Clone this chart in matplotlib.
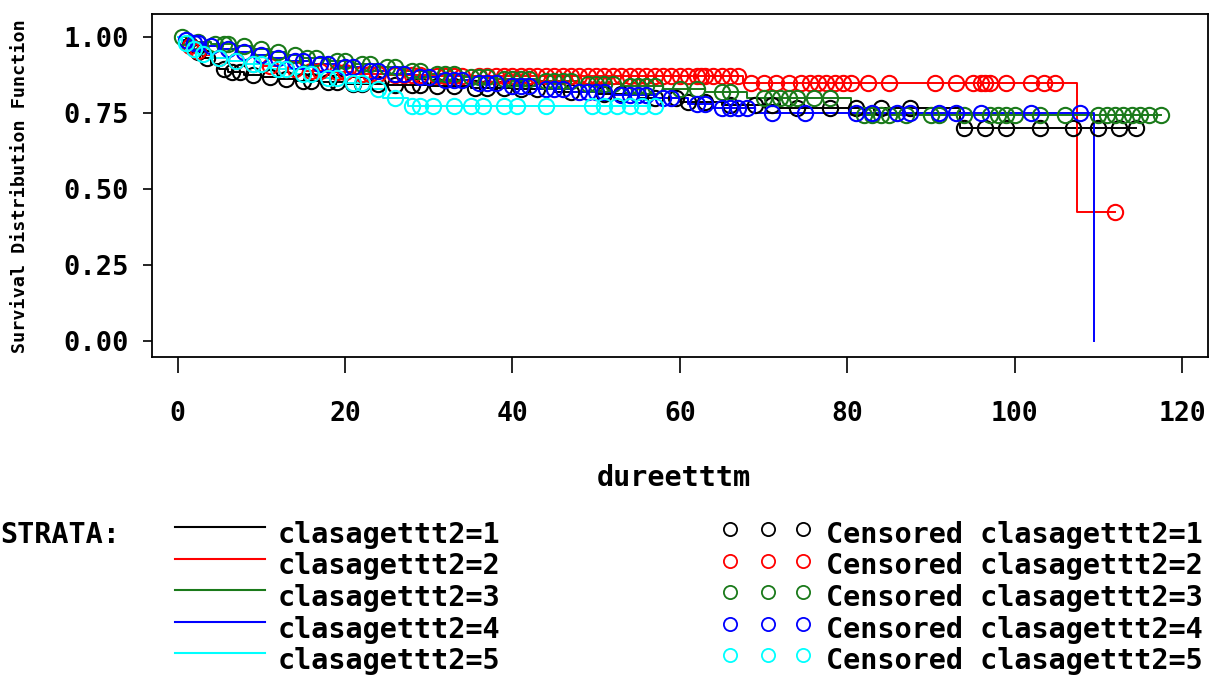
import numpy as np
import matplotlib
matplotlib.use("Agg")
import matplotlib.pyplot as plt
from matplotlib.lines import Line2D

strata = ["clasagettt2=1", "clasagettt2=2", "clasagettt2=3",
          "clasagettt2=4", "clasagettt2=5"]
colors = ["#000000", "#ff0000", "#1a7a1a", "#0000ff", "#00ffff"]

# event times and survival after each event, censored times
t1 = [0.5, 1, 2, 3, 4, 5, 6, 8, 10, 12, 14, 17, 20, 25, 30, 35, 40, 45, 50,
      55, 60, 65, 72, 93.5]
s1 = [0.99, 0.975, 0.95, 0.93, 0.91, 0.895, 0.885, 0.875, 0.868, 0.862,
      0.857, 0.852, 0.846, 0.842, 0.838, 0.833, 0.828, 0.82, 0.812, 0.80,
      0.785, 0.775, 0.766, 0.70]
c1 = [1.5, 2.5, 3.5, 5.5, 6.5, 7.5, 9, 11, 13, 15, 16, 18, 19, 21, 22, 24,
      26, 28, 29, 31, 33, 35.5, 37, 39, 41, 43, 47, 51, 53, 57, 59.5, 61,
      63, 66, 69, 71, 74, 78, 81, 84, 87.5, 94, 96.5, 99, 103, 107, 110,
      112.5, 114.5]

t2 = [0.5, 1, 2, 3, 4, 6, 8, 10, 12, 15, 18, 21, 25, 30, 67.5, 107.5]
s2 = [0.985, 0.97, 0.955, 0.94, 0.93, 0.92, 0.91, 0.905, 0.895, 0.89,
      0.885, 0.88, 0.876, 0.872, 0.849, 0.425]
c2 = [1.5, 2.5, 5, 7, 9, 11, 13, 14, 16, 17, 19, 20, 22, 23, 24, 26, 27,
      28, 29, 31, 32, 33, 34, 36, 37, 38, 39, 40, 41, 42, 43, 44, 45, 46,
      47, 48, 49, 50, 51, 52, 53, 54, 55, 56, 57, 58, 59, 60, 61, 62, 62.5,
      63, 64, 65, 66, 67, 68.5, 70, 71.5, 73, 74.5, 75.5, 76.5, 77.5, 78.5,
      79.5, 80.5, 82.5, 85, 90.5, 93, 95, 96, 96.5, 97, 99, 102, 103.5,
      104.8, 112]

t3 = [1, 2, 4, 7, 9, 11, 13, 15, 18, 21, 24, 27, 30, 34, 38, 43, 48, 53,
      58, 63, 68, 80.5]
s3 = [0.99, 0.985, 0.978, 0.97, 0.96, 0.95, 0.94, 0.93, 0.92, 0.91, 0.90,
      0.89, 0.88, 0.87, 0.862, 0.854, 0.846, 0.838, 0.83, 0.818, 0.80, 0.745]
c3 = [0.5, 2.5, 4.5, 5.5, 6, 8, 10, 12, 14, 15.5, 16.5, 19, 20, 22, 23, 25,
      26, 28, 29, 31, 32, 33, 35, 36, 37, 39, 40, 41, 42, 44, 45, 46, 47,
      49, 50, 51, 52, 54, 55, 56, 57, 60, 62, 65, 66, 70, 71, 72, 73, 74,
      76, 78, 82, 83, 84, 85, 87, 90, 91, 94, 97, 98, 99, 100, 103, 106,
      110, 111, 112, 113, 114, 115, 116, 117.5]

t4 = [0.5, 1.5, 3, 5, 7, 9, 11, 13, 16, 19, 22, 25, 28, 31, 35, 39, 43, 47,
      52, 57, 61, 64, 69, 109.5]
s4 = [0.99, 0.98, 0.97, 0.96, 0.95, 0.94, 0.93, 0.92, 0.91, 0.90, 0.89,
      0.88, 0.87, 0.86, 0.85, 0.84, 0.83, 0.82, 0.81, 0.80, 0.78, 0.765,
      0.75, 0.0]
c4 = [1, 2, 2.5, 4, 6, 8, 10, 12, 14, 15, 17, 18, 20, 21, 23, 24, 26, 27,
      29, 30, 32, 33, 34, 36, 37, 38, 40, 41, 42, 44, 45, 46, 48, 49, 50,
      51, 53, 54, 55, 56, 58, 59, 62, 63, 65, 66, 67, 68, 71, 75, 81, 83,
      86, 87.5, 91, 93, 96, 102, 107.8]

t5 = [0.5, 1.5, 2.5, 4, 6, 8, 11, 14, 17, 20, 23, 24.5, 27.5]
s5 = [0.98, 0.96, 0.945, 0.93, 0.92, 0.91, 0.895, 0.88, 0.865, 0.85, 0.83,
      0.80, 0.772]
c5 = [1, 2, 3, 5, 7, 9, 10, 12, 13, 15, 16, 18, 19, 21, 22, 24, 26, 28, 29,
      30.5, 33, 35, 36.5, 39, 40.5, 44, 49.5, 51, 52.5, 54, 55.5, 57]

events = [t1, t2, t3, t4, t5]
survs = [s1, s2, s3, s4, s5]
censored = [c1, c2, c3, c4, c5]

mono = "DejaVu Sans Mono"
plt.rcParams["font.family"] = mono
plt.rcParams["font.weight"] = "bold"

fig = plt.figure(figsize=(12.1, 6.75), dpi=100)
ax = fig.add_axes([152 / 1210, 1 - 357 / 675, 1056 / 1210, 343 / 675])

for t, s, c, col in zip(events, survs, censored, colors):
    t = np.array(t, dtype=float)
    s = np.array(s, dtype=float)
    c = np.array(c, dtype=float)
    end = max(t[-1], c.max())
    xs = np.concatenate([[0], t, [end]])
    ys = np.concatenate([[1.0], s, [s[-1]]])
    ax.step(xs, ys, where="post", color=col, lw=1.4, zorder=2)
    idx = np.searchsorted(t, c, side="right")
    cy = np.where(idx > 0, s[np.maximum(idx - 1, 0)], 1.0)
    ax.plot(c, cy, ls="none", marker="o", ms=11, mfc="none", mec=col,
            mew=1.5, zorder=3)

ax.set_xlim(-3.05, 123.1)
ax.set_ylim(-0.053, 1.076)
ax.set_xticks(range(0, 121, 20))
ax.set_yticks([0, 0.25, 0.5, 0.75, 1.0])
ax.set_yticklabels(["0.00", "0.25", "0.50", "0.75", "1.00"])
ax.tick_params(axis="x", direction="out", length=11.5, width=1.2, pad=20,
               labelsize=19)
ax.tick_params(axis="y", direction="out", length=6.5, width=1.2, pad=10,
               labelsize=19.5)
for sp in ax.spines.values():
    sp.set_linewidth(1.3)

ax.set_xlabel("dureetttm", fontsize=20.5, fontweight="bold")
ax.xaxis.set_label_coords((674 - 152) / 1056, -(478 - 357) / 343)
ax.xaxis.label.set_verticalalignment("center")

fig.text(20 / 1210, 1 - 186 / 675, "Survival Distribution Function",
         rotation=90, ha="center", va="center", fontsize=13.2,
         fontweight="bold")

# legend block under the plot
fs = 20.5
fig.text(0, 1 - 543 / 675, "STRATA:", fontsize=fs, fontweight="bold",
         ha="left", va="baseline")
for i, (lab, col) in enumerate(zip(strata, colors)):
    ly = 1 - (527 + 31.5 * i) / 675
    by = 1 - (543 + 31.5 * i) / 675
    fig.add_artist(Line2D([175 / 1210, 265 / 1210], [ly, ly], color=col,
                          lw=1.5))
    fig.text(278 / 1210, by, lab, fontsize=fs, fontweight="bold",
             ha="left", va="baseline")
    my = 1 - (529 + 31.5 * i) / 675
    fig.add_artist(Line2D([730 / 1210, 768 / 1210, 803 / 1210], [my] * 3,
                          ls="none", marker="o", ms=9.5, mfc="none", mec=col,
                          mew=1.3))
    fig.text(826 / 1210, by, "Censored " + lab, fontsize=fs,
             fontweight="bold", ha="left", va="baseline")

fig.savefig("out.png", dpi=100)
